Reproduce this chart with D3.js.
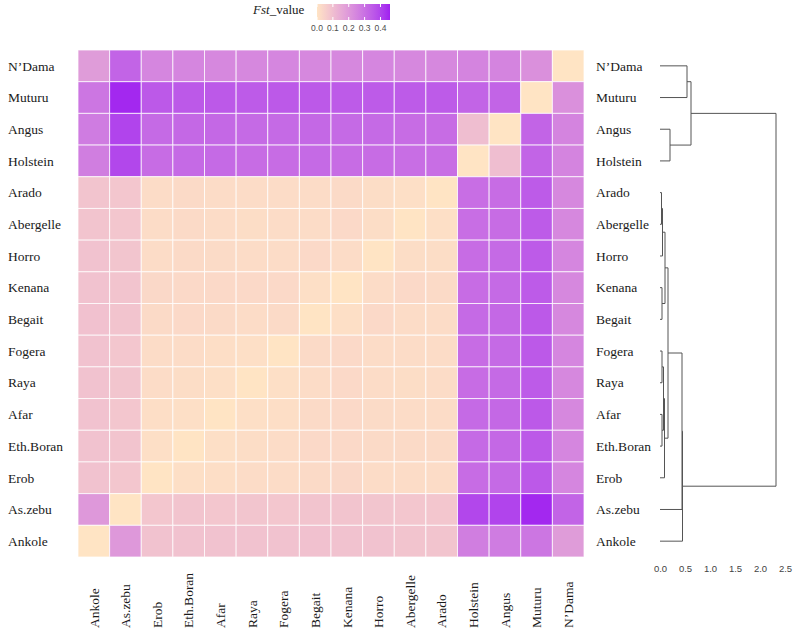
<!DOCTYPE html>
<html>
<head>
<meta charset="utf-8">
<script src="https://cdn.jsdelivr.net/npm/d3@7"></script>
<style>body{margin:0;background:#fff}</style>
</head>
<body>
<svg width="796" height="632"></svg>
<script>
// breeds, top to bottom (columns use the reverse order)
const breeds = ['N’Dama', 'Muturu', 'Angus', 'Holstein', 'Arado', 'Abergelle', 'Horro', 'Kenana',
    'Begait', 'Fogera', 'Raya', 'Afar', 'Eth.Boran', 'Erob', 'As.zebu', 'Ankole'];

// pairwise Fst, same order as breeds
const fst = [
    [0, .22, .25, .25, .24, .24, .245, .24, .24, .245, .24, .24, .245, .245, .33, .19],
    [.22, 0, .33, .33, .35, .35, .35, .35, .355, .355, .35, .355, .355, .355, .45, .285],
    [.25, .33, 0, .10, .31, .31, .315, .315, .32, .315, .315, .32, .32, .315, .40, .27],
    [.25, .33, .10, 0, .305, .305, .31, .31, .315, .31, .31, .315, .315, .31, .395, .265],
    [.24, .35, .31, .305, 0, .012, .018, .025, .022, .02, .02, .022, .025, .022, .08, .085],
    [.24, .35, .31, .305, .012, 0, .018, .028, .022, .02, .018, .02, .025, .02, .08, .085],
    [.245, .35, .315, .31, .018, .018, 0, .022, .028, .02, .022, .024, .025, .022, .082, .088],
    [.24, .35, .315, .31, .025, .028, .022, 0, .012, .03, .028, .03, .03, .032, .085, .09],
    [.24, .355, .32, .315, .022, .022, .028, .012, 0, .025, .022, .025, .028, .025, .085, .092],
    [.245, .355, .315, .31, .02, .02, .02, .03, .025, 0, .012, .015, .02, .02, .08, .088],
    [.24, .35, .315, .31, .02, .018, .022, .028, .022, .012, 0, .012, .018, .02, .082, .09],
    [.24, .355, .32, .315, .022, .02, .024, .03, .025, .015, .012, 0, .012, .015, .08, .09],
    [.245, .355, .32, .315, .025, .025, .025, .03, .028, .02, .018, .012, 0, .012, .085, .09],
    [.245, .355, .315, .31, .022, .02, .022, .032, .025, .02, .02, .015, .012, 0, .08, .088],
    [.33, .45, .40, .395, .08, .08, .082, .085, .085, .08, .082, .08, .085, .08, 0, .20],
    [.19, .285, .27, .265, .085, .085, .088, .09, .092, .088, .09, .09, .09, .088, .20, 0]
];

// dendrogram merges: [child, child, height]; a number points to an earlier merge
const merges = [
    ['Arado', 'Abergelle', 0.03],
    [0, 'Horro', 0.05],
    ['Kenana', 'Begait', 0.04],
    [1, 2, 0.10],
    ['Fogera', 'Raya', 0.04],
    ['Afar', 'Eth.Boran', 0.04],
    [4, 5, 0.07],
    [6, 'Erob', 0.09],
    [3, 7, 0.16],
    [8, 'As.zebu', 0.44],
    [9, 'Ankole', 0.45],
    ['N’Dama', 'Muturu', 0.54],
    ['Angus', 'Holstein', 0.20],
    [11, 12, 0.62],
    [13, 10, 2.32]
];

const legendTicks = [0, 0.1, 0.2, 0.3, 0.4];
const heightTicks = [0, 0.5, 1, 1.5, 2, 2.5];

const SERIF = '"Liberation Serif", "Times New Roman", serif';
const SANS = '"Liberation Sans", Arial, sans-serif';
const FST_MAX = 0.46;

var svg = d3.select('svg');

var cols = breeds.slice().reverse();
var x = d3.scaleBand().domain(cols).range([78, 584]);
var y = d3.scaleBand().domain(breeds).range([50, 557]);

var color = d3.scaleLinear()
    .domain([0, FST_MAX])
    .range(['#FFE4C4', '#A020F0'])
    .interpolate(d3.interpolateLab)
    .clamp(true);

/* heatmap cells */
var cells = [];
breeds.forEach((r, i) => {
    cols.forEach(c => {
        cells.push({ row: r, col: c, value: fst[i][breeds.indexOf(c)] });
    });
});

svg.append('g')
    .selectAll('rect')
    .data(cells)
    .join('rect')
    .attr('x', d => x(d.col))
    .attr('y', d => y(d.row))
    .attr('width', x.bandwidth())
    .attr('height', y.bandwidth())
    .attr('fill', d => color(d.value))
    .attr('stroke', '#fff')
    .attr('stroke-opacity', 0.75)
    .attr('stroke-width', 1);

/* row labels, left and right */
svg.append('g')
    .selectAll('text')
    .data(breeds)
    .join('text')
    .attr('x', 8)
    .attr('y', d => y(d) + y.bandwidth() / 2)
    .attr('dy', '0.35em')
    .style('font-family', SERIF)
    .style('font-size', '13.5px')
    .attr('fill', '#1a1a1a')
    .text(d => d);

svg.append('g')
    .selectAll('text')
    .data(breeds)
    .join('text')
    .attr('x', 596)
    .attr('y', d => y(d) + y.bandwidth() / 2)
    .attr('dy', '0.35em')
    .style('font-family', SERIF)
    .style('font-size', '13.5px')
    .attr('fill', '#1a1a1a')
    .text(d => d);

/* column labels */
svg.append('g')
    .selectAll('text')
    .data(cols)
    .join('text')
    .attr('transform', d => 'translate(' + (x(d) + x.bandwidth() / 2) + ',628) rotate(-90)')
    .attr('dy', '0.35em')
    .style('font-family', SERIF)
    .style('font-size', '13.5px')
    .attr('fill', '#1a1a1a')
    .text(d => d);

/* legend */
var lx = d3.scaleLinear().domain([0, FST_MAX]).range([317, 390]);
var grad = svg.append('defs').append('linearGradient').attr('id', 'fstGrad');
d3.range(0, 1.0001, 0.1).forEach(t => {
    grad.append('stop')
        .attr('offset', t)
        .attr('stop-color', color(t * FST_MAX));
});

svg.append('rect')
    .attr('x', lx(0))
    .attr('y', 4)
    .attr('width', lx(FST_MAX) - lx(0))
    .attr('height', 16)
    .attr('fill', 'url(#fstGrad)');

var lt = svg.append('g');
legendTicks.forEach(t => {
    lt.append('line')
        .attr('x1', lx(t)).attr('x2', lx(t))
        .attr('y1', 4).attr('y2', 7)
        .attr('stroke', '#fff');
    lt.append('line')
        .attr('x1', lx(t)).attr('x2', lx(t))
        .attr('y1', 17).attr('y2', 20)
        .attr('stroke', '#fff');
    lt.append('text')
        .attr('x', lx(t))
        .attr('y', 31)
        .attr('text-anchor', 'middle')
        .style('font-family', SANS)
        .style('font-size', '8.5px')
        .attr('fill', '#4d4d4d')
        .text(d3.format('.1f')(t));
});

var title = svg.append('text')
    .attr('x', 253)
    .attr('y', 14)
    .style('font-family', SERIF)
    .style('font-size', '13px')
    .attr('fill', '#1a1a1a');
title.append('tspan').style('font-style', 'italic').text('Fst');
title.append('tspan').text('_value');

/* dendrogram */
var hx = d3.scaleLinear().domain([0, 2.5]).range([660, 785]);
var nodes = [];
function pos(ref) {
    if (typeof ref === 'number') return nodes[ref];
    return { x: hx(0), y: y(ref) + y.bandwidth() / 2 };
}
var dpath = d3.path();
merges.forEach(([a, b, h]) => {
    var pa = pos(a), pb = pos(b);
    var nx = hx(h);
    dpath.moveTo(pa.x, pa.y); dpath.lineTo(nx, pa.y);
    dpath.moveTo(pb.x, pb.y); dpath.lineTo(nx, pb.y);
    dpath.moveTo(nx, pa.y); dpath.lineTo(nx, pb.y);
    nodes.push({ x: nx, y: (pa.y + pb.y) / 2 });
});

svg.append('path')
    .attr('d', dpath.toString())
    .attr('fill', 'none')
    .attr('stroke', '#555')
    .attr('stroke-width', 1);

var ax = svg.append('g')
    .attr('transform', 'translate(0,562)')
    .call(d3.axisBottom(hx).tickValues(heightTicks).tickFormat(d3.format('.1f')).tickSize(0).tickPadding(3));
ax.select('.domain').remove();
ax.selectAll('text')
    .style('font-family', SANS)
    .style('font-size', '9.5px')
    .attr('fill', '#444');
</script>
</body>
</html>
